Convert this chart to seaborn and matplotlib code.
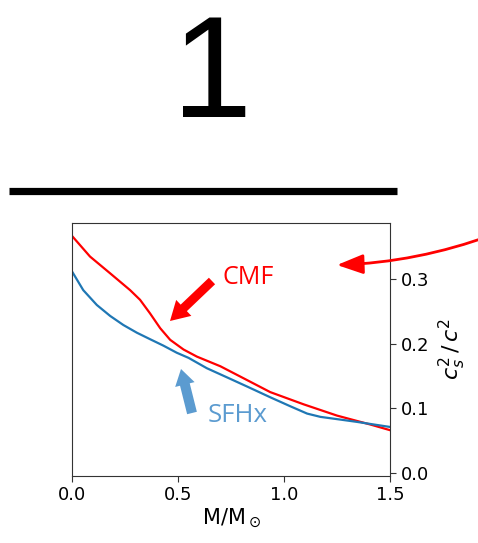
import numpy as np
import pandas as pd
import matplotlib
matplotlib.use("Agg")
import matplotlib.pyplot as plt
import seaborn as sns
from matplotlib.patches import FancyArrow, FancyArrowPatch
from matplotlib.transforms import IdentityTransform

# Enclosed mass (solar masses) and squared sound speed for the two EOS
mass_cmf = [0.0, 0.085, 0.18, 0.274, 0.321, 0.368, 0.416, 0.463, 0.526, 0.589, 0.70,
            0.80, 0.935, 1.093, 1.25, 1.408, 1.50]
cs2_cmf = [0.367, 0.335, 0.309, 0.283, 0.268, 0.247, 0.224, 0.206, 0.191, 0.180, 0.165,
           0.148, 0.125, 0.106, 0.0886, 0.0747, 0.066]
mass_sfhx = [0.0, 0.053, 0.117, 0.18, 0.242, 0.306, 0.368, 0.431, 0.494, 0.55, 0.636,
             0.73, 0.83, 0.935, 1.03, 1.109, 1.172, 1.266, 1.345, 1.42, 1.50]
cs2_sfhx = [0.312, 0.283, 0.260, 0.243, 0.229, 0.217, 0.207, 0.197, 0.186, 0.178, 0.162,
            0.148, 0.133, 0.117, 0.103, 0.0917, 0.0866, 0.0824, 0.0788, 0.075, 0.071]
eos_names = ["CMF", "SFHx"]
eos_colors = {"CMF": "#ff0000", "SFHx": "#1f77b4"}

df = pd.concat([
    pd.DataFrame({"M": mass_cmf, "cs2": cs2_cmf, "EOS": "CMF"}),
    pd.DataFrame({"M": mass_sfhx, "cs2": cs2_sfhx, "EOS": "SFHx"}),
])

W, H = 478, 543
fig = plt.figure(figsize=(W / 100, H / 100), dpi=100)
ax = fig.add_axes([72 / W, 1 - 476 / H, (390 - 72) / W, (476 - 223) / H])

sns.lineplot(data=df, x="M", y="cs2", hue="EOS", hue_order=eos_names,
             palette=eos_colors, ax=ax, legend=False, linewidth=1.6)

ax.set_xlim(0, 1.5)
ax.set_ylim(-0.005, 0.387)
ax.set_xticks([0.0, 0.5, 1.0, 1.5])
ax.set_yticks([0.0, 0.1, 0.2, 0.3])
ax.yaxis.tick_right()
ax.yaxis.set_label_position("right")
ax.tick_params(axis="both", labelsize=13, length=4, color="#333333")
ax.tick_params(axis="y", left=False, right=True)
for s in ax.spines.values():
    s.set_color("#333333")
ax.set_xlabel(r"M/M$_\odot$", fontsize=15, labelpad=2)
ax.set_ylabel(r"$c_s^2\,/\,c^2$", fontsize=16, labelpad=6)

# Big fraction numeral and bar above the panel
fig.text(212 / W, 1 - 117 / H, "1", fontsize=104, family="Liberation Sans",
         ha="center", va="baseline")
fig.add_artist(plt.Line2D([9 / W, 397 / W], [1 - 190.5 / H, 1 - 190.5 / H],
                          color="black", linewidth=5.2, solid_capstyle="butt"))

# Labels for the two curves
fig.text(248.5 / W, 1 - 278 / H, "CMF", fontsize=18, family="Open Sans",
         color="#ff0000", ha="center", va="center")
fig.text(238 / W, 1 - 415 / H, "SFHx", fontsize=18.5, family="Open Sans",
         color="#5b9bd0", ha="center", va="center")

ident = IdentityTransform()


def pix_arrow(x0, y0, x1, y1, width, head_w, head_l, color):
    a = FancyArrow(x0, H - y0, x1 - x0, -(y1 - y0), width=width,
                   head_width=head_w, head_length=head_l,
                   length_includes_head=True, color=color, lw=0,
                   transform=ident)
    fig.add_artist(a)


pix_arrow(212, 281, 170, 321, 9, 22, 19, "#ff0000")
pix_arrow(192, 413, 181, 369, 10, 20, 16, "#5b9bd0")

curve = FancyArrowPatch((492, H - 235), (337, H - 265),
                        connectionstyle="arc3,rad=-0.08",
                        arrowstyle="-|>,head_length=8,head_width=3",
                        color="#ff0000", lw=2, transform=ident,
                        mutation_scale=2.0, shrinkA=0, shrinkB=0)
fig.add_artist(curve)

fig.savefig("out.png", dpi=100)
